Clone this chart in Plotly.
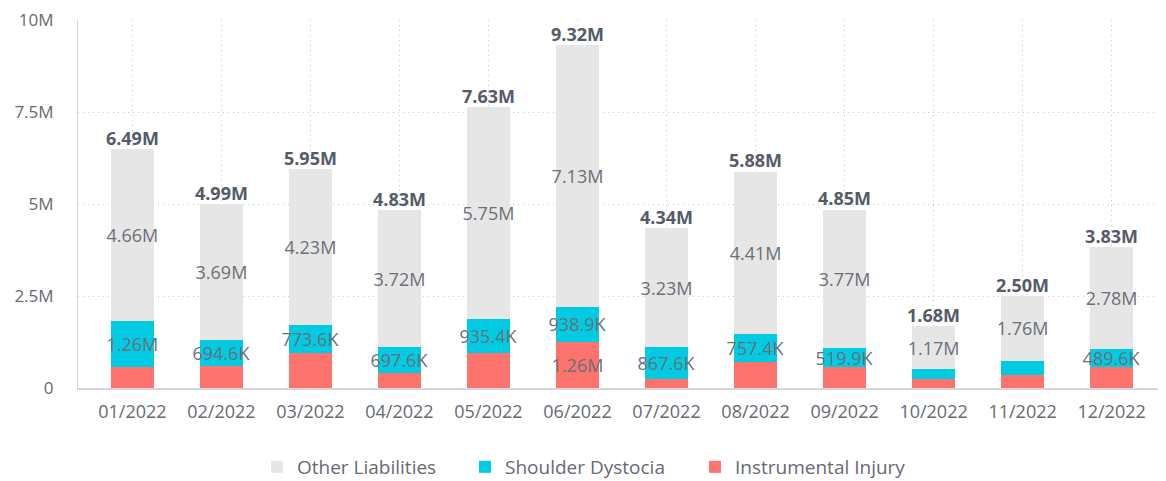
import plotly.graph_objects as go

months = ["01/2022", "02/2022", "03/2022", "04/2022", "05/2022", "06/2022",
          "07/2022", "08/2022", "09/2022", "10/2022", "11/2022", "12/2022"]
other_liabilities = [4.66e6, 3.69e6, 4.23e6, 3.72e6, 5.75e6, 7.126e6,
                     3.23e6, 4.41e6, 3.77e6, 1.17e6, 1.76e6, 2.78e6]
shoulder_dystocia = [1.26e6, 694.6e3, 773.6e3, 697.6e3, 935.4e3, 938.9e3,
                     867.6e3, 757.4e3, 519.9e3, 0.27e6, 0.39e6, 489.6e3]
instrumental_injury = [0.57e6, 0.605e6, 0.946e6, 0.412e6, 0.945e6, 1.258e6,
                       0.242e6, 0.713e6, 0.56e6, 0.24e6, 0.35e6, 0.56e6]
totals = [6.49e6, 4.99e6, 5.95e6, 4.83e6, 7.63e6, 9.32e6,
          4.34e6, 5.88e6, 4.85e6, 1.68e6, 2.50e6, 3.83e6]
shoulder_label_shown = [True] * 9 + [False, False, True]
instrumental_label_shown = [False] * 5 + [True] + [False] * 6
y_tick_vals = [0, 2.5e6, 5e6, 7.5e6, 10e6]
y_tick_text = ["0", "2.5M", "5M", "7.5M", "10M"]


def fmt(v):
    if v >= 1e6:
        return f"{v / 1e6:.2f}M"
    return f"{v / 1e3:.1f}K"


FONT = "Open Sans"
LABEL_COLOR = "#6b6f78"
TICK_COLOR = "#666a73"
GRID = "#c4c4c4"

fig = go.Figure()
common = dict(textposition="inside", insidetextanchor="middle",
              constraintext="none", textangle=0,
              textfont=dict(family=FONT, size=18, color=LABEL_COLOR),
              hoverinfo="x+y+name")

fig.add_trace(go.Bar(
    name="Instrumental Injury", x=months, y=instrumental_injury,
    marker=dict(color="#fd746f", line=dict(width=0)), legend="legend3",
    text=[fmt(v) if s else "" for v, s in zip(instrumental_injury, instrumental_label_shown)],
    **common))
fig.add_trace(go.Bar(
    name="Shoulder Dystocia", x=months, y=shoulder_dystocia,
    marker=dict(color="#00cbe2", line=dict(width=0)), legend="legend2",
    text=[fmt(v) if s else "" for v, s in zip(shoulder_dystocia, shoulder_label_shown)],
    **common))
fig.add_trace(go.Bar(
    name="Other Liabilities", x=months, y=other_liabilities,
    marker=dict(color="#e6e6e6", line=dict(width=0)), legend="legend",
    text=[fmt(v) for v in other_liabilities],
    **common))
fig.add_trace(go.Scatter(
    x=months, y=totals, mode="text", text=[fmt(v) for v in totals],
    textposition="top center", showlegend=False, hoverinfo="skip",
    textfont=dict(family=FONT, size=18, color="#555b69", weight="bold")))

PLOT_W = 1088.0
PLOT_H = 368.0
legend_common = dict(orientation="h", xanchor="left", y=-79 / PLOT_H,
                     yanchor="middle", itemsizing="constant",
                     font=dict(family=FONT, size=19, color=TICK_COLOR))

# page body has an 8px default margin, so the figure is offset by 8px
fig.update_layout(
    width=1158, height=473,
    barmode="stack", bargap=0.514,
    plot_bgcolor="white", paper_bgcolor="white",
    margin=dict(l=70, r=0, t=12, b=93, autoexpand=False),
    font=dict(family=FONT, size=18, color=TICK_COLOR),
    legend=dict(x=179 / PLOT_W, **legend_common),
    legend2=dict(x=387 / PLOT_W, **legend_common),
    legend3=dict(x=617 / PLOT_W, **legend_common),
    xaxis=dict(type="category", showgrid=True, gridcolor=GRID,
               griddash="1px,4px", gridwidth=1, showline=True,
               linecolor="#d6d6dc", linewidth=2, ticks="",
               ticklabelstandoff=6,
               tickfont=dict(family=FONT, size=18, color=TICK_COLOR)),
    yaxis=dict(range=[0, 10e6], tickvals=y_tick_vals, ticktext=y_tick_text,
               showgrid=True, gridcolor=GRID, griddash="1px,4px",
               gridwidth=1, showline=True, linecolor="#d6d6dc",
               linewidth=1, zeroline=False, ticks="", ticklabelstandoff=20,
               ticklabeloverflow="allow",
               tickfont=dict(family=FONT, size=17, color=TICK_COLOR)),
)

fig.write_html("out.html")
